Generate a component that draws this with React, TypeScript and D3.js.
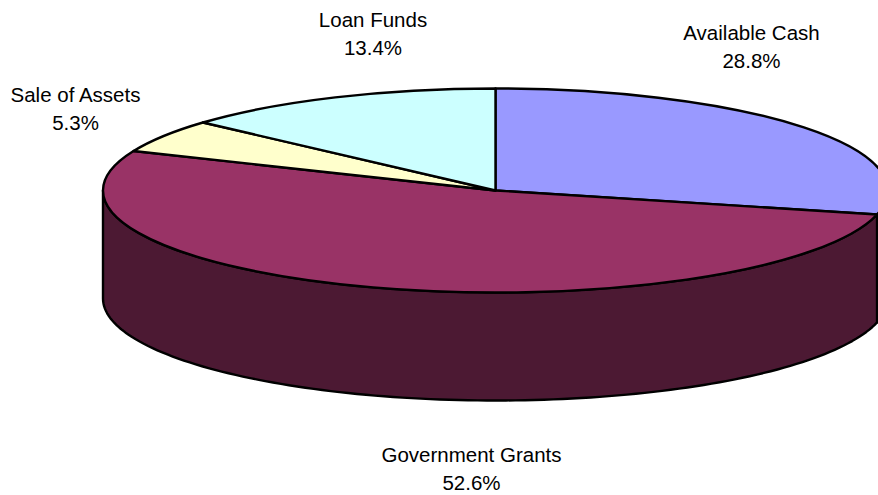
import React from "react";
import * as d3 from "d3";

const categories = ["Available Cash", "Government Grants", "Sale of Assets", "Loan Funds"];
const shares = [28.8, 52.6, 5.3, 13.4];
const topColors = ["#9999FF", "#993366", "#FFFFCC", "#CCFFFF"];
const wallColors = ["#4C4C80", "#4C1933", "#808066", "#668080"];
const labelAnchors = [
  { x: 751.5, y: 40 },
  { x: 471.5, y: 462 },
  { x: 75.5, y: 102 },
  { x: 373, y: 27 },
];

const WIDTH = 878;
const HEIGHT = 495;
const CX = 495.5;
const CY = 190.5;
const RX = 392.5;
const RY = 102;
const DEPTH = 108;
const LINE_GAP = 27.5;
const STROKE = 2.4;

const slices = d3.pie<number>().sort(null)(shares);
const arc = d3.arc<d3.PieArcDatum<number>>().innerRadius(0).outerRadius(RX);

// Projected rim position for a clockwise angle measured from twelve o'clock.
const rim = (a: number): [number, number] => [CX + RX * Math.sin(a), CY - RY * Math.cos(a)];

// Side wall: the part of a slice's rim on the near half of the ellipse, extruded downward.
function wallPath(start: number, end: number): string | null {
  const a0 = Math.max(start, Math.PI / 2);
  const a1 = Math.min(end, (3 * Math.PI) / 2);
  if (a1 <= a0) return null;
  const steps = d3.range(0, 121).map((i) => a0 + ((a1 - a0) * i) / 120);
  const upper = steps.map(rim);
  const lower = [...upper].reverse().map(([x, y]) => [x, y + DEPTH] as [number, number]);
  return d3.line()([...upper, ...lower]) + "Z";
}

export default function App() {
  return (
    <svg
      width={WIDTH}
      height={HEIGHT}
      style={{ position: "absolute", left: 0, top: 0, background: "#fff" }}
      fontFamily="'Liberation Sans', Arial, sans-serif"
      fontSize={20.5}
      fill="#000"
    >
      {slices.map((s, i) => {
        const d = wallPath(s.startAngle, s.endAngle);
        return d ? (
          <path key={i} d={d} fill={wallColors[i]} stroke="#000" strokeWidth={STROKE} strokeLinejoin="round" />
        ) : null;
      })}
      <g transform={`translate(${CX},${CY}) scale(1,${RY / RX})`}>
        {slices.map((s, i) => (
          <path
            key={i}
            d={arc(s) ?? ""}
            fill={topColors[i]}
            stroke="#000"
            strokeWidth={STROKE}
            strokeLinejoin="round"
            vectorEffect="non-scaling-stroke"
          />
        ))}
      </g>
      {categories.map((c, i) => (
        <text key={c} textAnchor="middle">
          <tspan x={labelAnchors[i].x} y={labelAnchors[i].y}>{c}</tspan>
          <tspan x={labelAnchors[i].x} y={labelAnchors[i].y + LINE_GAP}>{shares[i].toFixed(1)}%</tspan>
        </text>
      ))}
    </svg>
  );
}
